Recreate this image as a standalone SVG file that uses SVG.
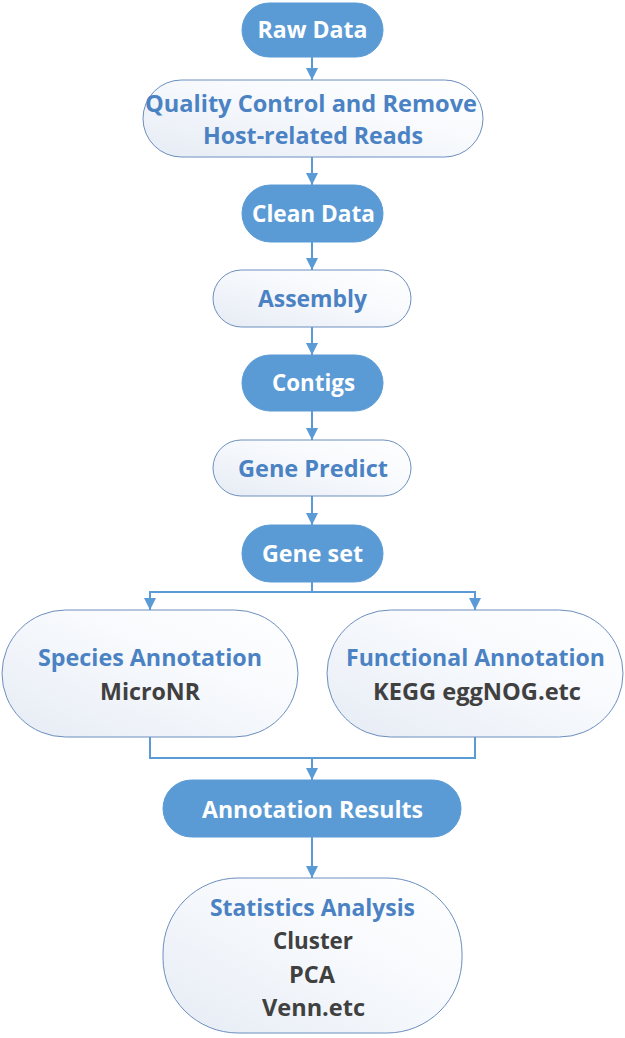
<svg xmlns="http://www.w3.org/2000/svg" width="625" height="1038" viewBox="0 0 625 1038">
<style>
.dark{fill:#5B9BD5;stroke:#5B9BD5;stroke-width:1}
.light{fill:url(#lg);stroke:#6C8EBF;stroke-width:1}
text{font-family:"Open Sans","Noto Sans","Liberation Sans",sans-serif;font-weight:700;font-size:23.5px;text-anchor:middle}
.w{fill:#FFFFFF}
.b{fill:#4A82C3}
.g{fill:#404040}
.conn{fill:none;stroke:#5B9BD5;stroke-width:2}
</style>
<defs>
<linearGradient id="lg" x1="0" y1="1" x2="1" y2="0">
<stop offset="0" stop-color="#E6ECF5"/>
<stop offset="0.6" stop-color="#F8FAFD"/>
<stop offset="1" stop-color="#FFFFFF"/>
</linearGradient>
<marker id="ah" viewBox="0 0 12 12" refX="12" refY="6" markerWidth="12" markerHeight="13" markerUnits="userSpaceOnUse" orient="auto">
<path d="M0,0 L12,6 L0,12 Z" fill="#5B9BD5"/>
</marker>
</defs>
<g id="connectors">
<line class="conn" x1="312" y1="57" x2="312" y2="80" marker-end="url(#ah)"/>
<line class="conn" x1="312" y1="157" x2="312" y2="185" marker-end="url(#ah)"/>
<line class="conn" x1="312" y1="242" x2="312" y2="270" marker-end="url(#ah)"/>
<line class="conn" x1="312" y1="327" x2="312" y2="355" marker-end="url(#ah)"/>
<line class="conn" x1="312" y1="411" x2="312" y2="440" marker-end="url(#ah)"/>
<line class="conn" x1="312" y1="496" x2="312" y2="525" marker-end="url(#ah)"/>
<polyline class="conn" points="312,582 312,592 150,592 150,610" marker-end="url(#ah)"/>
<polyline class="conn" points="312,592 475,592 475,610" marker-end="url(#ah)"/>
<polyline class="conn" points="150,737 150,758 475,758 475,737"/>
<line class="conn" x1="312" y1="758" x2="312" y2="780" marker-end="url(#ah)"/>
<line class="conn" x1="312" y1="837" x2="312" y2="878" marker-end="url(#ah)"/>
</g>
<g id="raw-data">
<rect class="dark" x="242" y="3" width="141" height="54" rx="27"/>
<text class="w" x="312.5" y="38" textLength="110" lengthAdjust="spacingAndGlyphs">Raw Data</text>
</g>
<g id="quality-control">
<rect class="light" x="143" y="80" width="340" height="77" rx="38.5"/>
<text class="b" x="311" y="112" textLength="332" lengthAdjust="spacingAndGlyphs">Quality Control and Remove</text>
<text class="b" x="313" y="144" textLength="220" lengthAdjust="spacingAndGlyphs">Host-related Reads</text>
</g>
<g id="clean-data">
<rect class="dark" x="242" y="185" width="141" height="57" rx="28.5"/>
<text class="w" x="313.5" y="222" textLength="123" lengthAdjust="spacingAndGlyphs">Clean Data</text>
</g>
<g id="assembly">
<rect class="light" x="213" y="270" width="198" height="57" rx="28.5"/>
<text class="b" x="312.5" y="307" textLength="109" lengthAdjust="spacingAndGlyphs">Assembly</text>
</g>
<g id="contigs">
<rect class="dark" x="242" y="355" width="141" height="56" rx="28"/>
<text class="w" x="313.5" y="391" textLength="83" lengthAdjust="spacingAndGlyphs">Contigs</text>
</g>
<g id="gene-predict">
<rect class="light" x="213" y="440" width="198" height="56" rx="28"/>
<text class="b" x="313" y="477" textLength="150" lengthAdjust="spacingAndGlyphs">Gene Predict</text>
</g>
<g id="gene-set">
<rect class="dark" x="242" y="525" width="141" height="57" rx="28.5"/>
<text class="w" x="312.5" y="562" textLength="101" lengthAdjust="spacingAndGlyphs">Gene set</text>
</g>
<g id="species-annotation">
<rect class="light" x="2" y="610" width="296" height="127" rx="63.5"/>
<text class="b" x="150" y="666" textLength="224" lengthAdjust="spacingAndGlyphs">Species Annotation</text>
<text class="g" x="150" y="700" textLength="100" lengthAdjust="spacingAndGlyphs">MicroNR</text>
</g>
<g id="functional-annotation">
<rect class="light" x="327" y="610" width="296" height="127" rx="63.5"/>
<text class="b" x="475.5" y="666" textLength="259" lengthAdjust="spacingAndGlyphs">Functional Annotation</text>
<text class="g" x="477" y="700" textLength="208" lengthAdjust="spacingAndGlyphs">KEGG eggNOG.etc</text>
</g>
<g id="annotation-results">
<rect class="dark" x="163" y="780" width="298" height="57" rx="28.5"/>
<text class="w" x="312.5" y="818" textLength="221" lengthAdjust="spacingAndGlyphs">Annotation Results</text>
</g>
<g id="statistics-analysis">
<rect class="light" x="163" y="878" width="299" height="155" rx="75"/>
<text class="b" x="312.5" y="916" textLength="205" lengthAdjust="spacingAndGlyphs">Statistics Analysis</text>
<text class="g" x="313" y="949" textLength="80" lengthAdjust="spacingAndGlyphs">Cluster</text>
<text class="g" x="312" y="983" textLength="46" lengthAdjust="spacingAndGlyphs">PCA</text>
<text class="g" x="313.5" y="1016" textLength="103" lengthAdjust="spacingAndGlyphs">Venn.etc</text>
</g>
</svg>
